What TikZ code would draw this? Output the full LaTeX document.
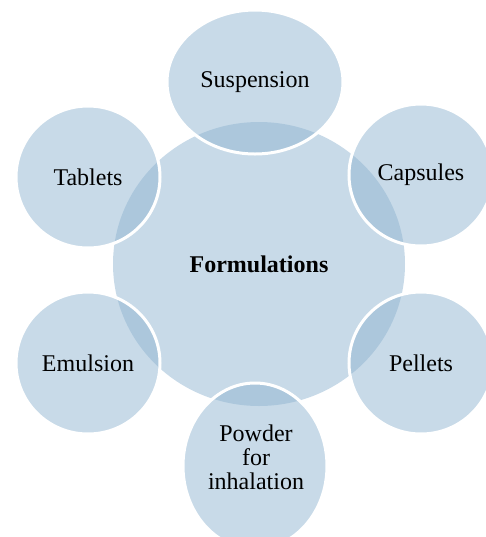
\documentclass[tikz,border=0pt]{standalone}
\usepackage{fontspec}
\setmainfont{Liberation Serif}
\usetikzlibrary{shapes.geometric}
\definecolor{bub}{RGB}{145,181,209}
\tikzset{
  hub/.style={ellipse, fill=bub, fill opacity=0.5, text opacity=1, draw=none,
    minimum width=146pt, minimum height=142pt, inner sep=0pt,
    font=\fontsize{12}{12}\selectfont\bfseries},
  sat/.style={ellipse, fill=bub, fill opacity=0.5, text opacity=1, draw=white, draw opacity=1,
    line width=1.5pt, minimum width=72pt, minimum height=71pt, inner sep=0pt,
    align=center, font=\fontsize{12}{12}\selectfont},
  lbl/.style={align=center, inner sep=0pt, font=\fontsize{12}{12}\selectfont}
}
\begin{document}
\begin{tikzpicture}[x=0.5pt, y=-0.5pt]
\useasboundingbox (0,0) rectangle (486,537);
\node[hub] (hub) at (259,264) {Formulations};
\node[sat, minimum width=88pt, minimum height=72pt] (susp) at (255,82) {Suspension};
\node[sat] (caps) at (421,175) {Capsules};
\node[sat] (pell) at (421,363) {Pellets};
\node[sat, minimum height=83pt] (powd) at (255,466) {};
\node[lbl] (powdtext) at (256,457) {Powder\\for\\inhalation};
\node[sat] (emul) at (88,363) {Emulsion};
\node[sat] (tabl) at (88,177) {Tablets};
\end{tikzpicture}
\end{document}
